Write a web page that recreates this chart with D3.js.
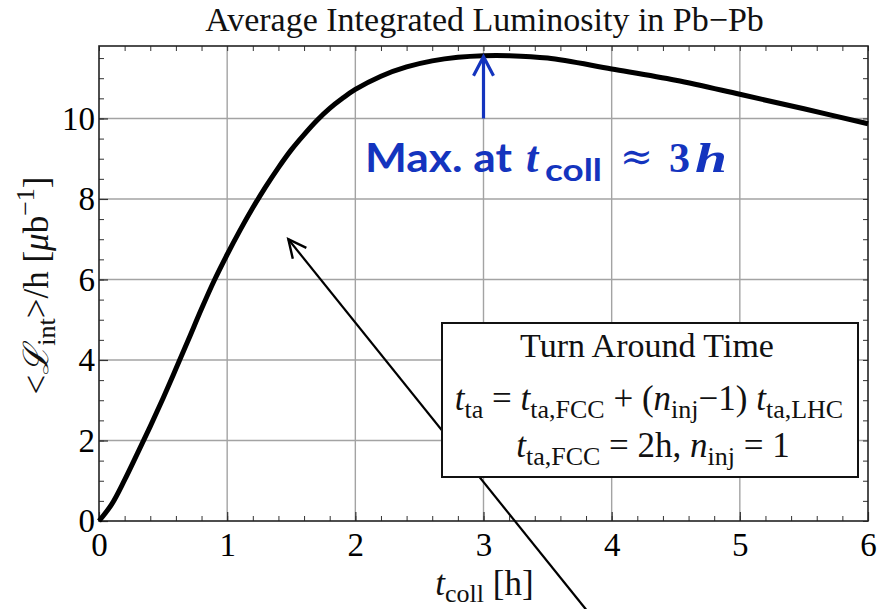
<!DOCTYPE html>
<html>
<head>
<meta charset="utf-8">
<script src="https://cdn.jsdelivr.net/npm/d3@7"></script>
<style>
  html, body { margin: 0; padding: 0; background: #fff; }
  svg { display: block; }
</style>
</head>
<body>
<svg id="chart" width="887" height="609"></svg>
<script>
// Average integrated luminosity per hour vs. collision time (Pb-Pb)
const tColl = [0, 0.1, 0.2, 0.3, 0.4, 0.5, 0.6, 0.7, 0.8, 0.9, 1.0, 1.1, 1.2, 1.3, 1.4, 1.5, 1.6, 1.7, 1.8, 1.9, 2.0, 2.2, 2.4, 2.6, 2.8, 3.0, 3.2, 3.5, 4.0, 4.5, 5.0, 5.5, 6.0];
const lumAvg = [0, 0.42, 1.02, 1.68, 2.35, 3.05, 3.78, 4.52, 5.27, 5.98, 6.62, 7.22, 7.78, 8.3, 8.78, 9.22, 9.6, 9.95, 10.25, 10.5, 10.72, 11.05, 11.28, 11.43, 11.52, 11.56, 11.56, 11.5, 11.23, 10.95, 10.6, 10.24, 9.87];

const xTicks = [0, 1, 2, 3, 4, 5, 6];
const yTicks = [0, 2, 4, 6, 8, 10];
const xMinor = d3.range(0, 6.001, 0.2);
const yMinor = d3.range(0, 11.8, 0.5);

const peakT = 3;                   // collision time of the maximum
const pointerFrom = [3.80, -2.2];  // black pointer: tail (t, L)
const pointerTo = [1.477, 7.0];    // black pointer: head (t, L)

const W = 887, H = 609;
const pLeft = 99, pRight = 868, pTop = 46, pBottom = 521;
const SERIF = "Liberation Serif, Times New Roman, serif";

const svg = d3.select("#chart");
svg.append("rect").attr("width", W).attr("height", H).attr("fill", "#fff");

const x = d3.scaleLinear().domain([0, 6]).range([pLeft, pRight]);
const y = d3.scaleLinear().domain([0, 11.8]).range([pBottom, pTop]);

// grid
const grid = svg.append("g").attr("stroke", "#a3a3a3").attr("stroke-width", 1.4);
grid.selectAll("line.vx").data(xTicks.filter(d => d > 0 && d < 6)).join("line")
  .attr("x1", d => x(d)).attr("x2", d => x(d)).attr("y1", pTop).attr("y2", pBottom);
grid.selectAll("line.hy").data(yTicks.filter(d => d > 0)).join("line")
  .attr("y1", d => y(d)).attr("y2", d => y(d)).attr("x1", pLeft).attr("x2", pRight);

// minor ticks on all four sides
function minorAxis(gen, vals, tx, ty) {
  const g = svg.append("g").attr("transform", `translate(${tx},${ty})`)
    .call(gen.tickValues(vals).tickFormat("").tickSizeInner(-5).tickSizeOuter(0));
  g.select(".domain").remove();
  g.selectAll("line").attr("stroke", "#333").attr("stroke-width", 1);
}
minorAxis(d3.axisBottom(x), xMinor, 0, pBottom);
minorAxis(d3.axisTop(x), xMinor, 0, pTop);
minorAxis(d3.axisLeft(y), yMinor, pLeft, 0);
minorAxis(d3.axisRight(y), yMinor, pRight, 0);

// major axes with labels
const xAxis = svg.append("g").attr("transform", `translate(0,${pBottom})`)
  .call(d3.axisBottom(x).tickValues(xTicks).tickFormat(d3.format("d")).tickSizeInner(-9).tickSizeOuter(0).tickPadding(12));
const yAxis = svg.append("g").attr("transform", `translate(${pLeft},0)`)
  .call(d3.axisLeft(y).tickValues(yTicks).tickFormat(d3.format("d")).tickSizeInner(-9).tickSizeOuter(0).tickPadding(4));
[xAxis, yAxis].forEach(g => {
  g.select(".domain").remove();
  g.selectAll("line").attr("stroke", "#333").attr("stroke-width", 1.2);
  g.selectAll("text").attr("font-size", 33).attr("fill", "#000").attr("font-family", SERIF);
});

// frame
svg.append("rect").attr("x", pLeft).attr("y", pTop).attr("width", pRight - pLeft).attr("height", pBottom - pTop)
  .attr("fill", "none").attr("stroke", "#222").attr("stroke-width", 1.6);

// curve
const line = d3.line().x((d, i) => x(tColl[i])).y(d => y(d)).curve(d3.curveCatmullRom.alpha(0.5));
svg.append("path").datum(lumAvg).attr("d", line)
  .attr("fill", "none").attr("stroke", "#000").attr("stroke-width", 5).attr("stroke-linejoin", "round");

// title
svg.append("text").attr("x", (pLeft + pRight) / 2 + 1).attr("y", 31)
  .attr("text-anchor", "middle").attr("font-family", SERIF).attr("font-size", 34).attr("fill", "#111")
  .text("Average Integrated Luminosity in Pb\u2212Pb");

// x label
const xl = svg.append("text").attr("x", (pLeft + pRight) / 2 + 1).attr("y", 595)
  .attr("text-anchor", "middle").attr("font-family", SERIF).attr("font-size", 35).attr("fill", "#111");
xl.append("tspan").attr("font-style", "italic").text("t");
xl.append("tspan").attr("font-size", 26).attr("dy", 7).text("coll");
xl.append("tspan").attr("dy", -7).text(" [h]");

// y label
const yl = svg.append("text")
  .attr("transform", `translate(48,${(pTop + pBottom) / 2 + 2}) rotate(-90)`)
  .attr("text-anchor", "middle").attr("font-family", SERIF).attr("font-size", 35).attr("fill", "#111");
yl.append("tspan").text("<");
yl.append("tspan").attr("font-style", "italic").text("\u2112");
yl.append("tspan").attr("font-size", 26).attr("dy", 7).text("int");
yl.append("tspan").attr("dy", -7).text(">/h [");
yl.append("tspan").attr("font-style", "italic").text("\u03bc");
yl.append("tspan").text("b");
yl.append("tspan").attr("font-size", 26).attr("dy", -14).text("\u22121");
yl.append("tspan").attr("dy", 14).text("]");

// blue arrow to the maximum
const blue = "#1434be";
const peakL = d3.max(lumAvg);
const ax = x(peakT), ayTip = y(peakL) + 1, ayTail = y(10);
svg.append("line").attr("x1", ax).attr("x2", ax).attr("y1", ayTail).attr("y2", ayTip + 2)
  .attr("stroke", blue).attr("stroke-width", 3.2);
svg.append("path").attr("d", `M${ax - 10},${ayTip + 19} L${ax},${ayTip} L${ax + 10},${ayTip + 19}`)
  .attr("fill", "none").attr("stroke", blue).attr("stroke-width", 3.2);

// blue annotation text, set piece by piece
const SANS = "Lato, 'Open Sans', sans-serif";
const blueParts = [
  { s: "Max. at", x0: 365, x1: 512, yb: 172, font: SANS, size: 40, weight: "bold" },
  { s: "t", x0: 526, yb: 172, font: SERIF, size: 44, weight: "bold", style: "italic" },
  { s: "coll", x0: 545, x1: 602, yb: 181, font: SANS, size: 30, weight: "bold" },
  { s: "\u2248", x0: 620, x1: 653, yb: 170, font: "DejaVu Serif, serif", size: 40, weight: "normal" },
  { s: "3", x0: 669, yb: 172, font: SERIF, size: 42, weight: "bold" },
  { s: "h", x0: 695, x1: 727, yb: 172, font: SERIF, size: 42, weight: "bold", style: "italic" }
];
blueParts.forEach(p => {
  const t = svg.append("text").attr("x", p.x0).attr("y", p.yb).attr("fill", blue)
    .attr("font-family", p.font).attr("font-size", p.size).attr("font-weight", p.weight)
    .attr("font-style", p.style || "normal").text(p.s);
  if (p.x1) t.attr("textLength", p.x1 - p.x0).attr("lengthAdjust", "spacingAndGlyphs");
});

// black pointer arrow
const px0 = x(pointerFrom[0]), py0 = y(pointerFrom[1]);
const px1 = x(pointerTo[0]), py1 = y(pointerTo[1]);
svg.append("line").attr("x1", px0).attr("y1", py0).attr("x2", px1).attr("y2", py1)
  .attr("stroke", "#000").attr("stroke-width", 2.2);
const ang = Math.atan2(py0 - py1, px0 - px1);
const hl = 20, ha = 0.45;
svg.append("path")
  .attr("d", `M${px1 + hl * Math.cos(ang - ha)},${py1 + hl * Math.sin(ang - ha)} L${px1},${py1} L${px1 + hl * Math.cos(ang + ha)},${py1 + hl * Math.sin(ang + ha)}`)
  .attr("fill", "none").attr("stroke", "#000").attr("stroke-width", 2.4);

// turn-around-time box
const bx = 442, by = 323, bw = 416, bh = 154;
svg.append("rect").attr("x", bx).attr("y", by).attr("width", bw).attr("height", bh)
  .attr("fill", "#fff").attr("stroke", "#111").attr("stroke-width", 2);
const cx = bx + bw / 2;
svg.append("text").attr("x", cx - 3).attr("y", 357).attr("text-anchor", "middle")
  .attr("font-family", SERIF).attr("font-size", 34).attr("fill", "#111").text("Turn Around Time");

function sub(t, s, ital) {
  return [{ t, ital }, { t: s, sub: true }];
}
function drawEq(parts, xc, yPos) {
  const tx = svg.append("text").attr("x", xc).attr("y", yPos)
    .attr("text-anchor", "middle").attr("font-family", SERIF).attr("font-size", 35).attr("fill", "#111");
  let shifted = false;
  parts.forEach(p => {
    const ts = tx.append("tspan").text(p.t);
    if (p.ital) ts.attr("font-style", "italic");
    if (p.sub) { ts.attr("font-size", 26).attr("dy", 8); shifted = true; }
    else if (shifted) { ts.attr("dy", -8); shifted = false; }
  });
}
drawEq([
  ...sub("t", "ta", true), { t: " = " }, ...sub("t", "ta,FCC", true), { t: " + (" },
  ...sub("n", "inj", true), { t: "\u22121) " }, ...sub("t", "ta,LHC", true)
], cx - 1, 410);
drawEq([
  ...sub("t", "ta,FCC", true), { t: " = 2h, " }, ...sub("n", "inj", true), { t: " = 1" }
], cx + 3, 457);
</script>
</body>
</html>
